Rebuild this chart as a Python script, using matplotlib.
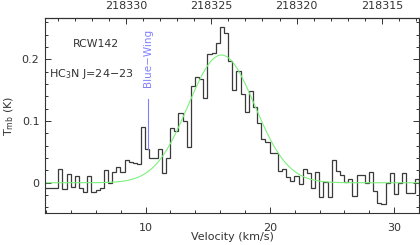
import numpy as np
import matplotlib
matplotlib.use("Agg")
import matplotlib.pyplot as plt
from matplotlib.ticker import MultipleLocator, FixedLocator, FuncFormatter

# ---- data ----
chan_start_v = 1.6325      # km/s, left edge of first channel
chan_width_v = 0.3335      # km/s
tmb = [-0.009, -0.009, -0.009, -0.009, 0.023, -0.010, 0.015, -0.007, 0.011, -0.009,
       -0.015, 0.011, -0.015, -0.011, -0.008, 0.021, 0.000, 0.018, 0.025, 0.017,
       0.037, 0.033, 0.032, 0.031, 0.090, 0.054, 0.040, 0.040, 0.054, 0.016,
       0.040, 0.088, 0.084, 0.113, 0.100, 0.058, 0.157, 0.172, 0.168, 0.137,
       0.208, 0.210, 0.226, 0.253, 0.243, 0.198, 0.151, 0.181, 0.144, 0.114,
       0.149, 0.122, 0.097, 0.071, 0.066, 0.049, 0.049, 0.019, 0.022, 0.010,
       0.003, 0.011, -0.002, 0.022, 0.016, -0.008, 0.018, -0.023, 0.002, -0.023,
       0.037, 0.019, 0.013, 0.002, 0.006, -0.021, 0.012, 0.012, -0.001, 0.018,
       -0.014, -0.032, -0.035, 0.000, 0.016, -0.018, -0.001, 0.016, -0.016, -0.016,
       0.006, -0.005]

# Gaussian fit parameters
fit_amp = 0.207
fit_v0 = 16.1
fit_fwhm = 6.3

# frequency axis mapping
ref_freq = 218320.0   # MHz
ref_vel = 22.148      # km/s at ref_freq
kms_per_mhz = 1.3735

blue_wing_v = 10.2
blue_wing_range = [0.054, 0.135]

xlim = (1.9, 32.0)
ylim = (-0.049, 0.267)
freq_ticks = [218330, 218325, 218320, 218315]
y_major = [0.0, 0.1, 0.2]
y_labels = ["0", "0.1", "0.2"]

# ---- plot ----
plt.rcParams['font.family'] = ['DejaVu Sans']
fig = plt.figure(figsize=(4.2, 2.45), dpi=100)
ax = fig.add_axes([45/420, 1-213/245, (419-45)/420, (213-18)/245])

edges = chan_start_v + chan_width_v*np.arange(len(tmb)+1)
ax.stairs(tmb, edges, baseline=None, color='#3a3a3a', lw=0.9)

vv = np.linspace(xlim[0], xlim[1], 600)
sig = fit_fwhm/(2*np.sqrt(2*np.log(2)))
ax.plot(vv, fit_amp*np.exp(-0.5*((vv-fit_v0)/sig)**2), color='#7cf07c', lw=0.8)

bc = '#8080ff'
ax.plot([blue_wing_v, blue_wing_v], blue_wing_range, color=bc, lw=0.8)
ax.text(blue_wing_v, 0.2015, "Blue−Wing", rotation=90, ha='center', va='center',
        color=bc, fontsize=7.5)

tc = '#333333'
ax.text(6.0, 0.225, "RCW142", ha='center', va='center', fontsize=7.8, color=tc)
ax.text(2.2, 0.176, "HC$_3$N J=24−23", ha='left', va='center', fontsize=8, color=tc)

ax.set_xlim(*xlim)
ax.set_ylim(*ylim)

ax.xaxis.set_major_locator(FixedLocator([10, 20, 30]))
ax.xaxis.set_minor_locator(MultipleLocator(2))
ax.yaxis.set_major_locator(FixedLocator(y_major))
ax.yaxis.set_major_formatter(FuncFormatter(lambda v, p: y_labels[y_major.index(round(v, 3))] if round(v, 3) in y_major else ""))
ax.yaxis.set_minor_locator(MultipleLocator(0.02))
ax.tick_params(which='both', direction='in', top=False, right=True, colors='#333333',
               labelsize=8, labelcolor='#333333')
ax.tick_params(which='major', length=4.5, width=0.7, pad=4)
ax.tick_params(axis='x', which='major', pad=7)
ax.tick_params(which='minor', length=2.5, width=0.7)
for s in ax.spines.values():
    s.set_linewidth(0.8)
    s.set_color('#333333')

def v2f(v):
    return ref_freq - (v - ref_vel)/kms_per_mhz

def f2v(f):
    return ref_vel - (f - ref_freq)*kms_per_mhz

sec = ax.secondary_xaxis('top', functions=(v2f, f2v))
sec.xaxis.set_major_locator(FixedLocator(freq_ticks))
sec.xaxis.set_minor_locator(MultipleLocator(1))
sec.xaxis.set_major_formatter(FuncFormatter(lambda f, p: f"{f:.0f}"))
sec.tick_params(which='both', direction='in', colors='#333333', labelsize=8, labelcolor='#333333')
sec.tick_params(which='major', length=4.5, width=0.7, pad=5)
sec.tick_params(which='minor', length=2.5, width=0.7)
sec.spines['top'].set_linewidth(0.8)

ax.set_xlabel("Velocity (km/s)", fontsize=8, color='#333333', labelpad=-0.5)
ax.set_ylabel("T$_{\\rm mb}$ (K)", fontsize=8, color='#333333', labelpad=4)

fig.savefig("out.png", dpi=100)
